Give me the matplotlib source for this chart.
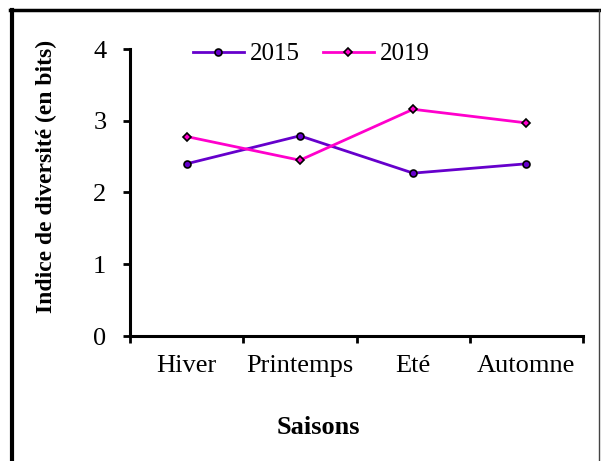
import matplotlib.pyplot as plt
from matplotlib.lines import Line2D

SEASONS = ['Hiver', 'Printemps', 'Eté', 'Automne']
VALUES_2015 = [2.40, 2.79, 2.27, 2.40]
VALUES_2019 = [2.78, 2.45, 3.16, 2.97]
Y_TICKS = [0, 1, 2, 3, 4]

plt.rcParams['font.family'] = ['Liberation Serif', 'DejaVu Serif']

fig = plt.figure(figsize=(6.01, 4.61), dpi=100)
ax = fig.add_axes([130 / 601, 1 - 336 / 461, 453 / 601, 287 / 461])

x = range(len(SEASONS))
ax.plot(x, VALUES_2015, color='#6600CC', lw=2, marker='o', ms=5,
        mfc='#6600CC', mec='black', mew=1.2, label='2015')
ax.plot(x, VALUES_2019, color='#FF00CC', lw=2, marker='D', ms=4.5,
        mfc='#FF00CC', mec='black', mew=1.2, label='2019')

ax.set_xlim(-0.5, len(SEASONS) - 0.5)
ax.set_ylim(0, 4)
ax.set_yticks(Y_TICKS)
ax.set_xticks([i - 0.5 for i in range(len(SEASONS) + 1)], minor=False)
ax.set_xticklabels([])
ax.set_xticks(list(x), minor=True)
ax.set_xticklabels(SEASONS, minor=True)
ax.tick_params(axis='x', which='minor', length=0, labelsize=19, pad=14)
ax.tick_params(axis='x', which='major', length=5, width=2)
ax.tick_params(axis='y', length=5, width=2, labelsize=19, pad=12)

for side in ['top', 'right']:
    ax.spines[side].set_visible(False)
for side in ['left', 'bottom']:
    ax.spines[side].set_linewidth(2.2)

ax.set_xlabel('Saisons', fontsize=19, fontweight='bold', labelpad=28)
ax.xaxis.label.set_x(0.415)
ax.set_ylabel('Indice de diversité (en bits)', fontsize=17, fontweight='bold')
ax.yaxis.set_label_coords(-0.16, 0.557)

ax.legend(loc='upper center', bbox_to_anchor=(0.4, 1.1), ncol=2, frameon=False,
          fontsize=18, handlelength=2.05, handletextpad=0.25, columnspacing=0.9)

# outer frame
fig.add_artist(Line2D([12 / 601, 12 / 601], [0, 1 - 10 / 461], color='black', lw=3))
fig.add_artist(Line2D([10 / 601, 599 / 601], [1 - 10 / 461, 1 - 10 / 461], color='black', lw=2.5))
fig.add_artist(Line2D([599 / 601, 599 / 601], [0, 1 - 10 / 461], color='#444444', lw=1))

fig.savefig('out.png', dpi=100)
